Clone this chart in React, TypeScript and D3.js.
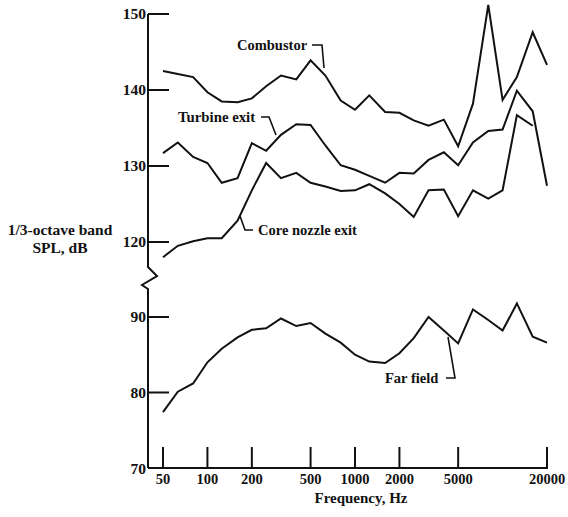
import React from "react";
import * as d3 from "d3";

const bands = [50, 63, 80, 100, 125, 160, 200, 250, 315, 400, 500, 630, 800, 1000, 1250, 1600, 2000, 2500, 3150, 4000, 5000, 6300, 8000, 10000, 12500, 16000, 20000];

const combustor = [142.5, 142.1, 141.7, 139.7, 138.5, 138.4, 138.9, 140.5, 141.9, 141.4, 143.9, 141.9, 138.6, 137.4, 139.3, 137.1, 137.0, 136.0, 135.3, 136.1, 132.6, 138.2, 151.2, 138.7, 141.7, 147.6, 143.3];
const turbineExit = [131.7, 133.1, 131.2, 130.4, 127.8, 128.4, 133.0, 132.0, 134.1, 135.5, 135.4, 132.7, 130.1, 129.5, 128.7, 127.8, 129.1, 129.0, 130.8, 131.8, 130.1, 133.1, 134.6, 134.8, 139.9, 137.2, 127.4];
const coreNozzleExit = [118.0, 119.5, 120.1, 120.5, 120.5, 122.8, 126.8, 130.4, 128.4, 129.1, 127.8, 127.3, 126.7, 126.8, 127.6, 126.4, 125.0, 123.3, 126.8, 126.9, 123.4, 126.8, 125.7, 126.8, 136.7, 135.3];
const farField = [77.4, 80.1, 81.2, 84.0, 85.8, 87.3, 88.3, 88.5, 89.8, 88.8, 89.2, 87.8, 86.6, 85.0, 84.1, 83.9, 85.2, 87.2, 90.0, 88.2, 86.5, 91.0, 89.6, 88.2, 91.8, 87.4, 86.6];

const xTicks = [50, 100, 200, 500, 1000, 2000, 5000, 20000];
const yTicksUpper = [120, 130, 140, 150];
const yTicksLower = [80, 90];
const yTickBottom = 70;

const FONT = "'Liberation Serif', 'DejaVu Serif', serif";

export default function App() {
  const x = d3.scaleLog().domain([50, 20000]).range([163, 547]);
  const yU = d3.scaleLinear().domain([120, 150]).range([242, 14]);
  const yL = d3.scaleLinear().domain([70, 90]).range([468, 317]);
  const axisX = 148;
  const baseY = yL(70);

  const lineU = d3
    .line<number>()
    .x((_, i) => x(bands[i]))
    .y((d) => yU(d));
  const lineL = d3
    .line<number>()
    .x((_, i) => x(bands[i]))
    .y((d) => yL(d));

  const series = [
    { vals: combustor, gen: lineU },
    { vals: turbineExit, gen: lineU },
    { vals: coreNozzleExit, gen: lineU },
    { vals: farField, gen: lineL },
  ];

  const txt = { fontFamily: FONT, fontWeight: 700, fill: "#111" } as const;
  const breakTop = 267;
  const breakBot = 289;

  return (
    <svg
      width={568}
      height={517}
      style={{ position: "absolute", left: 0, top: 0, background: "#fff" }}
    >
      {/* y axis with break */}
      <path
        d={`M${axisX},${yU(150)}V${breakTop}L${axisX + 9},${breakTop + 9}L${axisX - 6},${breakTop + 18}L${axisX},${breakBot}V${baseY}`}
        fill="none"
        stroke="#111"
        strokeWidth={2}
      />
      {/* x axis */}
      <line x1={axisX} x2={x(20000) + 1} y1={baseY} y2={baseY} stroke="#111" strokeWidth={2} />

      {/* y ticks */}
      {yTicksUpper.map((t) => (
        <g key={"u" + t}>
          <line x1={axisX} x2={axisX + 21} y1={yU(t)} y2={yU(t)} stroke="#111" strokeWidth={2} />
          <text x={axisX - 2} y={yU(t)} dy="0.35em" textAnchor="end" fontSize={15.5} {...txt}>
            {t}
          </text>
        </g>
      ))}
      {yTicksLower.map((t) => (
        <g key={"l" + t}>
          <line x1={axisX} x2={axisX + 21} y1={yL(t)} y2={yL(t)} stroke="#111" strokeWidth={2} />
          <text x={axisX - 2} y={yL(t)} dy="0.35em" textAnchor="end" fontSize={15.5} {...txt}>
            {t}
          </text>
        </g>
      ))}
      <text x={axisX - 2} y={yL(yTickBottom) + 1} dy="0.35em" textAnchor="end" fontSize={15.5} {...txt}>
        {yTickBottom}
      </text>

      {/* x ticks */}
      {xTicks.map((t) => (
        <g key={"x" + t}>
          <line x1={x(t)} x2={x(t)} y1={baseY} y2={baseY - 21} stroke="#111" strokeWidth={2} />
          <text x={x(t)} y={baseY + 16} textAnchor="middle" fontSize={14.5} {...txt}>
            {t}
          </text>
        </g>
      ))}

      {/* series */}
      {series.map((s, i) => (
        <path
          key={i}
          d={s.gen(s.vals) || ""}
          fill="none"
          stroke="#111"
          strokeWidth={2}
          strokeLinejoin="miter"
        />
      ))}

      {/* labels with leaders */}
      <text x={237} y={50} fontSize={14.5} {...txt}>Combustor</text>
      <path d="M312,45H322L324,68" fill="none" stroke="#111" strokeWidth={1.6} />

      <text x={178} y={122} fontSize={14.8} {...txt}>Turbine exit</text>
      <path d="M261,117H269L276,135" fill="none" stroke="#111" strokeWidth={1.6} />

      <text x={258} y={235} fontSize={14.5} {...txt}>Core nozzle exit</text>
      <path d="M240,216L245,230H253" fill="none" stroke="#111" strokeWidth={1.6} />

      <text x={385} y={383} fontSize={14.5} {...txt}>Far field</text>
      <path d="M448,337L455,378H446" fill="none" stroke="#111" strokeWidth={1.6} />

      {/* axis titles */}
      <text x={60} y={235} textAnchor="middle" fontSize={15.5} {...txt}>1/3-octave band</text>
      <text x={60} y={253} textAnchor="middle" fontSize={15.5} {...txt}>SPL, dB</text>
      <text x={361} y={503} textAnchor="middle" fontSize={15} {...txt}>Frequency, Hz</text>
    </svg>
  );
}
